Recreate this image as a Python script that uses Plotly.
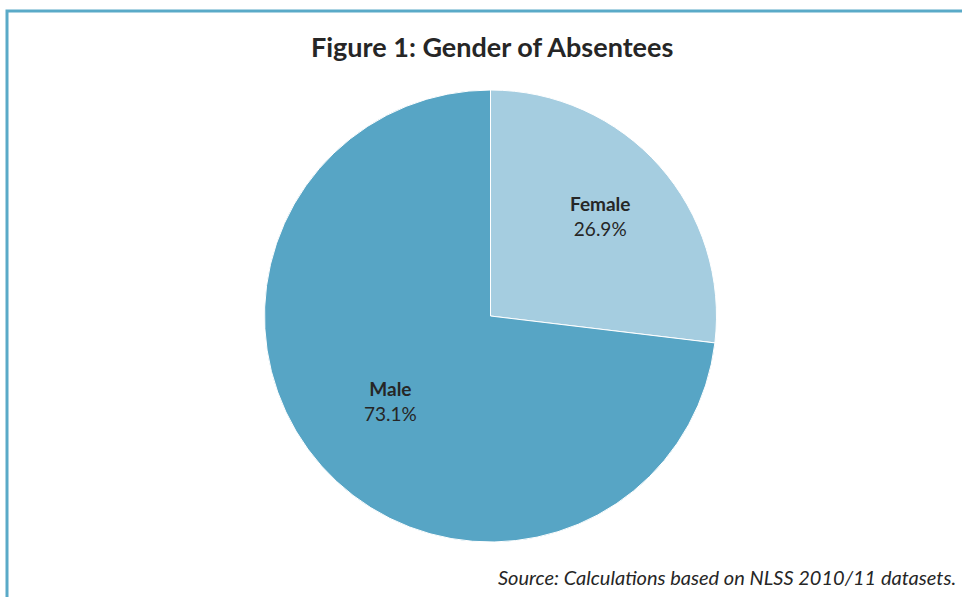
import math
import plotly.graph_objects as go

labels = ["Female", "Male"]
values = [26.9, 73.1]
colors = ["#a5cde0", "#57a5c5"]
label_radius = [0.65, 0.59]  # fraction of pie radius where each label sits

W, H = 962, 597
cx, cy, R = 490.5, 316, 226  # pixel centre and radius of the pie

fig = go.Figure(go.Pie(
    labels=labels, values=values, sort=False, direction="clockwise", rotation=0,
    marker=dict(colors=colors, line=dict(color="white", width=1)),
    textinfo="none",
    hoverinfo="label+percent", showlegend=False,
    domain=dict(x=[(cx - R) / W, (cx + R) / W], y=[1 - (cy + R) / H, 1 - (cy - R) / H]),
))

annotations = []
total = sum(values)
cum = 0
for lab, v, rf in zip(labels, values, label_radius):
    mid = (cum + v / 2) / total * 2 * math.pi
    cum += v
    px = cx + rf * R * math.sin(mid)
    py = cy - rf * R * math.cos(mid) - 3
    annotations.append(dict(
        text=f"<b>{lab}</b><br>{v:.1f}%", x=px / W, y=1 - py / H,
        xref="paper", yref="paper", showarrow=False, xanchor="center", yanchor="middle",
        font=dict(family="Lato", size=19, color="#262626")))

annotations += [
    dict(text="<b>Figure 1: Gender of Absentees</b>", x=492 / W, y=1 - 47 / H,
         xref="paper", yref="paper", showarrow=False, xanchor="center", yanchor="middle",
         font=dict(family="Lato", size=27, color="#262626")),
    dict(text="<i>Source: Calculations based on NLSS 2010/11 datasets.</i>", x=958 / W, y=1 - 577 / H,
         xref="paper", yref="paper", showarrow=False, xanchor="right", yanchor="middle",
         font=dict(family="Lato", size=20, color="#262626")),
]

fig.update_layout(
    width=W, height=H, margin=dict(l=0, r=0, t=0, b=0),
    paper_bgcolor="white", plot_bgcolor="white",
    font=dict(family="Lato"),
    shapes=[dict(type="rect", xref="paper", yref="paper",
                 x0=7 / W, x1=1.05, y0=-0.05, y1=1 - 11 / H,
                 line=dict(color="#5aaac8", width=3))],
    annotations=annotations,
)
fig.write_html("out.html")
